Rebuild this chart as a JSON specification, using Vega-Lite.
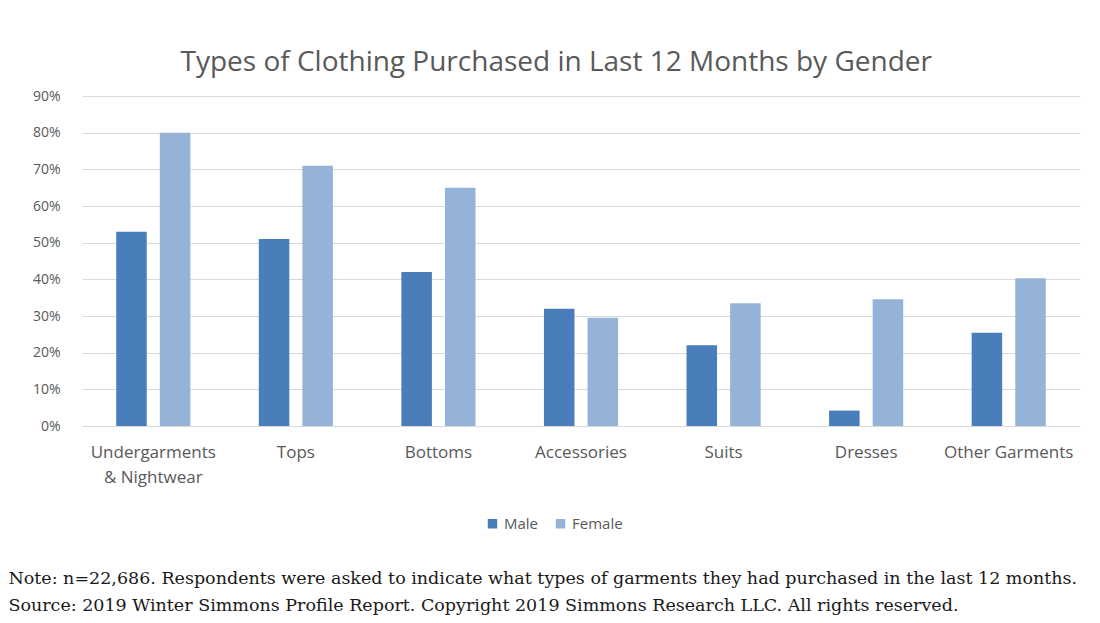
{
  "$schema": "https://vega.github.io/schema/vega-lite/v6.json",
  "padding": {"left": 8, "top": 49, "right": 10, "bottom": 5},
  "background": "white",
  "title": {
    "text": ["Note: n=22,686. Respondents were asked to indicate what types of garments they had purchased in the last 12 months.", "Source: 2019 Winter Simmons Profile Report. Copyright 2019 Simmons Research LLC. All rights reserved."],
    "orient": "bottom",
    "anchor": "start",
    "frame": "bounds",
    "dx": -24,
    "offset": 38,
    "font": "DejaVu Serif",
    "fontSize": 17.5,
    "fontWeight": "normal",
    "color": "#1a1a1a",
    "lineHeight": 27
  },
  "config": {
    "view": {"stroke": null},
    "font": "Open Sans"
  },
  "vconcat": [
    {
      "title": {
        "text": "Types of Clothing Purchased in Last 12 Months by Gender",
        "font": "Open Sans",
        "fontSize": 28,
        "fontWeight": "normal",
        "color": "#595959",
        "anchor": "middle",
        "frame": "bounds",
        "offset": 12
      },
      "width": 998,
      "height": 330,
      "data": {
        "values": [
          {"category": "Undergarments\n& Nightwear", "gender": "Male", "value": 0.53},
          {"category": "Undergarments\n& Nightwear", "gender": "Female", "value": 0.80},
          {"category": "Tops", "gender": "Male", "value": 0.51},
          {"category": "Tops", "gender": "Female", "value": 0.71},
          {"category": "Bottoms", "gender": "Male", "value": 0.42},
          {"category": "Bottoms", "gender": "Female", "value": 0.65},
          {"category": "Accessories", "gender": "Male", "value": 0.32},
          {"category": "Accessories", "gender": "Female", "value": 0.295},
          {"category": "Suits", "gender": "Male", "value": 0.22},
          {"category": "Suits", "gender": "Female", "value": 0.335},
          {"category": "Dresses", "gender": "Male", "value": 0.042},
          {"category": "Dresses", "gender": "Female", "value": 0.346},
          {"category": "Other Garments", "gender": "Male", "value": 0.254},
          {"category": "Other Garments", "gender": "Female", "value": 0.403}
        ]
      },
      "mark": {"type": "bar"},
      "encoding": {
        "x": {
          "field": "category",
          "type": "nominal",
          "sort": null,
          "scale": {"paddingInner": 0.48, "paddingOuter": 0.24},
          "axis": {
            "title": null,
            "labelAngle": 0,
            "labelExpr": "split(datum.label, '\\n')",
            "labelFontSize": 17,
            "labelColor": "#595959",
            "labelPadding": 18,
            "labelLineHeight": 25,
            "ticks": false,
            "domainColor": "#d9d9d9",
            "domainWidth": 1
          }
        },
        "xOffset": {
          "field": "gender",
          "type": "nominal",
          "sort": ["Male", "Female"],
          "scale": {"paddingInner": 0.3, "paddingOuter": 0}
        },
        "y": {
          "field": "value",
          "type": "quantitative",
          "scale": {"domain": [0, 0.9], "nice": false},
          "axis": {
            "title": null,
            "format": ".0%",
            "values": [0, 0.1, 0.2, 0.3, 0.4, 0.5, 0.6, 0.7, 0.8, 0.9],
            "labelFontSize": 14,
            "labelColor": "#595959",
            "labelPadding": 22,
            "ticks": false,
            "domain": false,
            "gridColor": "#d9d9d9",
            "gridWidth": 1
          }
        },
        "color": {
          "field": "gender",
          "type": "nominal",
          "scale": {"domain": ["Male", "Female"], "range": ["#4a7ebb", "#95b3d7"]},
          "legend": {
            "title": null,
            "orient": "none",
            "legendX": 403,
            "legendY": 420,
            "direction": "horizontal",
            "symbolType": "square",
            "symbolSize": 90,
            "symbolStrokeWidth": 0,
            "labelFontSize": 15,
            "labelColor": "#595959",
            "columnPadding": 14
          }
        }
      }
    }
  ]
}
